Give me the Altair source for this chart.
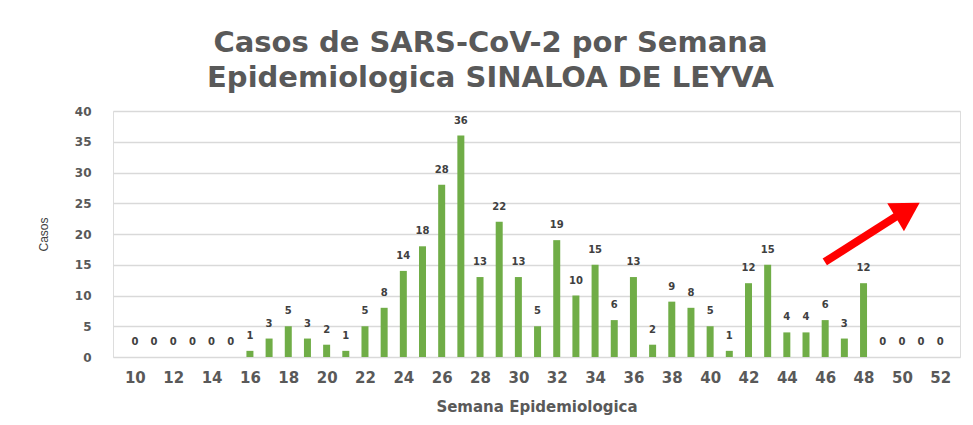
import altair as alt
import pandas as pd

weeks = list(range(10, 53))
cases = [0, 0, 0, 0, 0, 0, 1, 3, 5, 3, 2, 1, 5, 8, 14, 18, 28, 36, 13, 22,
         13, 5, 19, 10, 15, 6, 13, 2, 9, 8, 5, 1, 12, 15, 4, 4, 6, 3, 12,
         0, 0, 0, 0]
x_ticks = list(range(10, 53, 2))
y_ticks = [0, 5, 10, 15, 20, 25, 30, 35, 40]

# annotation arrow (in data units)
arrow_x = [45.98, 49.75]
arrow_y = [15.45, 22.95]
head_x = [50.3]
head_y = [23.9]

df = pd.DataFrame({"week": weeks, "cases": cases})
arrow_df = pd.DataFrame({"week": [arrow_x[0]], "cases": [arrow_y[0]],
                         "x2": [arrow_x[1]], "y2": [arrow_y[1]]})
head_df = pd.DataFrame({"week": head_x, "cases": head_y})

FONT = "DejaVu Sans"
TXT = "#595959"
xscale = alt.Scale(domain=[9.12, 52.77], nice=False, zero=False)
yscale = alt.Scale(domain=[0, 40], nice=False)

x_axis = alt.Axis(values=x_ticks, format="d", grid=False, domain=False, ticks=False,
                  labelFontSize=15, labelFontWeight="bold", labelColor=TXT,
                  labelFont=FONT, labelPadding=13, labelOverlap=False,
                  title="Semana Epidemiologica", titleFontSize=15,
                  titleFont=FONT, titleFontWeight="bold", titleColor=TXT,
                  titlePadding=14)
y_axis = alt.Axis(values=y_ticks, tickCount=9, domain=False, ticks=False, gridColor="#d9d9d9",
                  gridWidth=1.5, labelFontSize=12, labelFontWeight="bold",
                  labelColor=TXT, labelFont=FONT, labelPadding=22, labelOverlap=False,
                  title="Casos", titleFontSize=12, titleFont="Liberation Sans",
                  titleFontWeight="normal", titleColor="#404040", titlePadding=24)

x_enc = alt.X("week:Q", scale=xscale, axis=x_axis)
y_enc = alt.Y("cases:Q", scale=yscale, axis=y_axis)

bars = alt.Chart(df).mark_bar(color="#70ad47", size=7).encode(x=x_enc, y=y_enc)

labels = alt.Chart(df).mark_text(dy=-15, fontSize=10, fontWeight="bold", color="#404040",
                                 font=FONT).encode(x=x_enc, y=y_enc, text="cases:Q")

shaft = alt.Chart(arrow_df).mark_rule(color="#ff0000", strokeWidth=8).encode(
    x=x_enc, y=y_enc, x2="x2:Q", y2="y2:Q")

head = alt.Chart(head_df).mark_point(shape="triangle-up", filled=True, color="#ff0000",
                                     size=1050, angle=59, opacity=1).encode(x=x_enc, y=y_enc)

chart = alt.layer(bars, labels, shaft, head).properties(
    width=847, height=246,
    autosize=alt.AutoSizeParams(type="none"),
    padding={"left": 105, "right": 5, "top": 103, "bottom": 60},
    title=alt.TitleParams(["Casos de SARS-CoV-2 por Semana", "Epidemiologica SINALOA DE LEYVA"],
                          fontSize=29, font=FONT, fontWeight="bold", color=TXT,
                          anchor="middle", offset=12, lineHeight=35, dx=-46)
).configure_view(stroke=None).configure(background="white")

chart.save("out.html", embed_options={"renderer": "svg", "actions": False})
